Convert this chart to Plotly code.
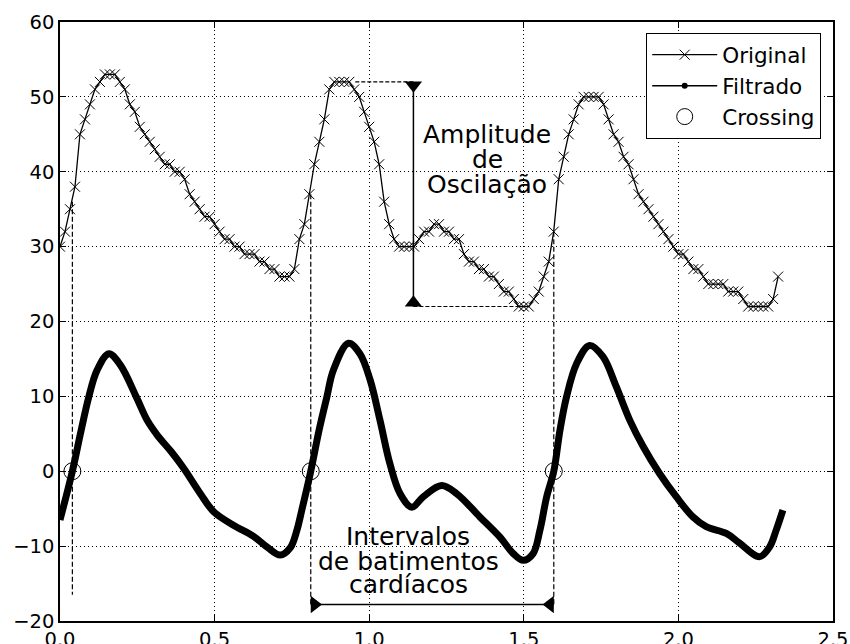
import numpy as np
import plotly.graph_objects as go

# ---------------- data ----------------
FS = 62.0  # samples per second of the original signal
original = [30, 32, 35, 38, 45, 47, 49, 51, 52, 53, 53, 53, 52, 51, 49, 48, 46, 45, 44, 43,
            42, 41, 41, 40, 40, 39, 37, 36, 35, 34, 34, 33, 32, 31, 31, 30, 30, 29, 29, 29,
            28, 28, 27, 27, 26, 26, 26, 27, 31, 33, 37, 41, 44, 47, 51, 52, 52, 52, 52, 51,
            50, 48, 46, 44, 41, 36, 33, 31, 30, 30, 30, 30, 31, 32, 32, 33, 33, 32, 32, 31,
            31, 29, 28, 28, 27, 27, 26, 26, 25, 24, 24, 23, 22, 22, 22, 23, 24, 26, 28, 32,
            39, 42, 45, 47, 49, 50, 50, 50, 50, 49, 47, 45, 44, 42, 41, 39, 37, 36, 35, 34,
            33, 32, 31, 30, 29, 29, 28, 27, 27, 26, 25, 25, 25, 25, 24, 24, 24, 23, 22, 22,
            22, 22, 22, 23, 26]
orig_t = np.arange(len(original)) / FS

filt_t = [0.000, 0.040, 0.066, 0.093, 0.120, 0.158, 0.195, 0.247, 0.282, 0.315,
          0.360, 0.400, 0.454, 0.497, 0.561, 0.626, 0.669, 0.712, 0.745, 0.766, 0.782, 0.811,
          0.838, 0.863, 0.884, 0.933, 0.970, 1.003, 1.035, 1.067, 1.100, 1.138, 1.175, 1.234,
          1.283, 1.358, 1.423, 1.466, 1.498, 1.530, 1.552, 1.574, 1.597, 1.617, 1.638, 1.671,
          1.713, 1.756, 1.799, 1.843, 1.886, 1.939, 1.993, 2.047, 2.090, 2.155, 2.198, 2.263,
          2.295, 2.316, 2.338]
filt_v = [-6.5, 0.0, 5.0, 9.9, 13.5, 15.7, 14.2, 9.9, 6.8, 4.8,
          2.6, 0.4, -3.0, -5.4, -7.2, -8.7, -10.1, -11.2, -10.2, -7.9, -5.2, 0.0,
          5.5, 9.9, 13.5, 17.1, 15.7, 12.2, 6.8, 1.0, -3.0, -4.8, -3.4, -1.9,
          -3.0, -6.1, -8.8, -11.0, -11.9, -11.0, -7.9, -3.4, 0.0, 5.5, 9.9, 14.4,
          16.8, 15.3, 11.3, 6.8, 3.3, -0.3, -3.4, -6.1, -7.4, -8.3, -9.6, -11.4,
          -10.1, -7.9, -5.2]

cross_t = [0.040, 0.811, 1.597]
cross_v = [0.0, 0.0, 0.0]
cross_top = [36.0, 37.0, 32.0]        # original value where the dashed guide starts
cross_bottom = [-16.5, -18.0, -18.0]  # where the dashed guide ends

# amplitude annotation (peak / valley of the original signal)
amp_x = 1.143
amp_peak_t, amp_peak_v = 0.955, 52.0
amp_valley_t, amp_valley_v = 1.505, 22.0

# heart-beat interval annotation
interval_y = -17.8

x_ticks = [0.0, 0.5, 1.0, 1.5, 2.0, 2.5]
y_ticks = [-20, -10, 0, 10, 20, 30, 40, 50, 60]

FONT = "DejaVu Sans"
fig = go.Figure()

# dashed guides at the crossings
for t, top, bot in zip(cross_t, cross_top, cross_bottom):
    fig.add_trace(go.Scatter(x=[t, t], y=[top, bot], mode="lines",
                             line=dict(color="black", width=1.2, dash="5px,2.5px"),
                             showlegend=False, hoverinfo="skip"))

# amplitude guides
fig.add_trace(go.Scatter(x=[amp_peak_t, amp_x], y=[amp_peak_v, amp_peak_v], mode="lines",
                         line=dict(color="black", width=1.2, dash="4px,2px"),
                         showlegend=False, hoverinfo="skip"))
fig.add_trace(go.Scatter(x=[amp_x, amp_valley_t], y=[amp_valley_v, amp_valley_v], mode="lines",
                         line=dict(color="black", width=1.2, dash="4px,2px"),
                         showlegend=False, hoverinfo="skip"))
fig.add_trace(go.Scatter(x=[amp_x, amp_x], y=[amp_valley_v, amp_peak_v], mode="lines",
                         line=dict(color="black", width=1.5),
                         showlegend=False, hoverinfo="skip"))
fig.add_trace(go.Scatter(x=[amp_x, amp_x], y=[amp_peak_v - 0.45, amp_valley_v + 0.5], mode="markers",
                         marker=dict(symbol=["triangle-down", "triangle-up"], size=15, color="black"),
                         showlegend=False, hoverinfo="skip"))

# interval arrow
fig.add_trace(go.Scatter(x=[cross_t[1], cross_t[2]], y=[interval_y, interval_y], mode="lines",
                         line=dict(color="black", width=1.5),
                         showlegend=False, hoverinfo="skip"))
fig.add_trace(go.Scatter(x=[cross_t[1] + 0.012, cross_t[2] - 0.012], y=[interval_y, interval_y],
                         mode="markers",
                         marker=dict(symbol=["triangle-right", "triangle-left"], size=15, color="black"),
                         showlegend=False, hoverinfo="skip"))

# Original
fig.add_trace(go.Scatter(x=orig_t, y=original, mode="lines+markers", name="Original",
                         legendgroup="a",
                         line=dict(color="black", width=1.3),
                         marker=dict(symbol="x-thin", size=10, color="black",
                                     line=dict(color="black", width=1))))

# Filtrado
fig.add_trace(go.Scatter(x=filt_t, y=filt_v, mode="lines", name="Filtrado",
                         line=dict(color="black", width=7, shape="spline", smoothing=1.0),
                         showlegend=False))
fig.add_trace(go.Scatter(x=[None], y=[None], mode="lines+markers", name="Filtrado",
                         legendgroup="b",
                         line=dict(color="black", width=1.5),
                         marker=dict(symbol="circle", size=6, color="black")))

# Crossing
fig.add_trace(go.Scatter(x=cross_t, y=cross_v, mode="markers", name="Crossing",
                         legendgroup="c",
                         marker=dict(symbol="circle-open", size=17, color="black",
                                     line=dict(color="black", width=1))))

# text annotations
amp_lines = [("Amplitude", 44.96), ("de", 41.6), ("Oscilação", 38.28)]
for txt, yv in amp_lines:
    fig.add_annotation(x=1.381, y=yv, text=txt, showarrow=False, xanchor="center",
                       yanchor="middle", font=dict(family=FONT, size=25, color="black"))
int_lines = [("Intervalos", -8.71), ("de batimentos", -12.05), ("cardíacos", -15.16)]
for txt, yv in int_lines:
    fig.add_annotation(x=1.126, y=yv, text=txt, showarrow=False, xanchor="center",
                       yanchor="middle", font=dict(family=FONT, size=25, color="black"))

fig.update_layout(
    width=850, height=644,
    margin=dict(l=60, r=17, t=22, b=23, pad=0),
    paper_bgcolor="white", plot_bgcolor="white",
    font=dict(family=FONT, size=19.5, color="black"),
    legend=dict(x=0.9845, y=0.9816, xanchor="right", yanchor="top",
                bgcolor="white", bordercolor="black", borderwidth=1.2,
                font=dict(family=FONT, size=21.5, color="black"),
                itemwidth=65, tracegroupgap=0, traceorder="grouped"),
)
axis_common = dict(showgrid=True, gridcolor="black", griddash="1px,3px", gridwidth=0.8,
                   showline=True, linecolor="black", linewidth=1.5, mirror="allticks",
                   ticks="inside", ticklen=6, tickwidth=1, tickcolor="black",
                   zeroline=False, automargin=False,
                   tickfont=dict(family=FONT, size=19.5, color="black"))
fig.update_xaxes(range=[0, 2.5], tickvals=x_ticks, tickformat=".1f", **axis_common)
fig.update_yaxes(range=[-20, 60], tickvals=y_ticks, **axis_common)

fig.write_html("out.html", config={"displayModeBar": False},
               post_script="document.body.style.margin='0';document.body.style.overflow='hidden';")
